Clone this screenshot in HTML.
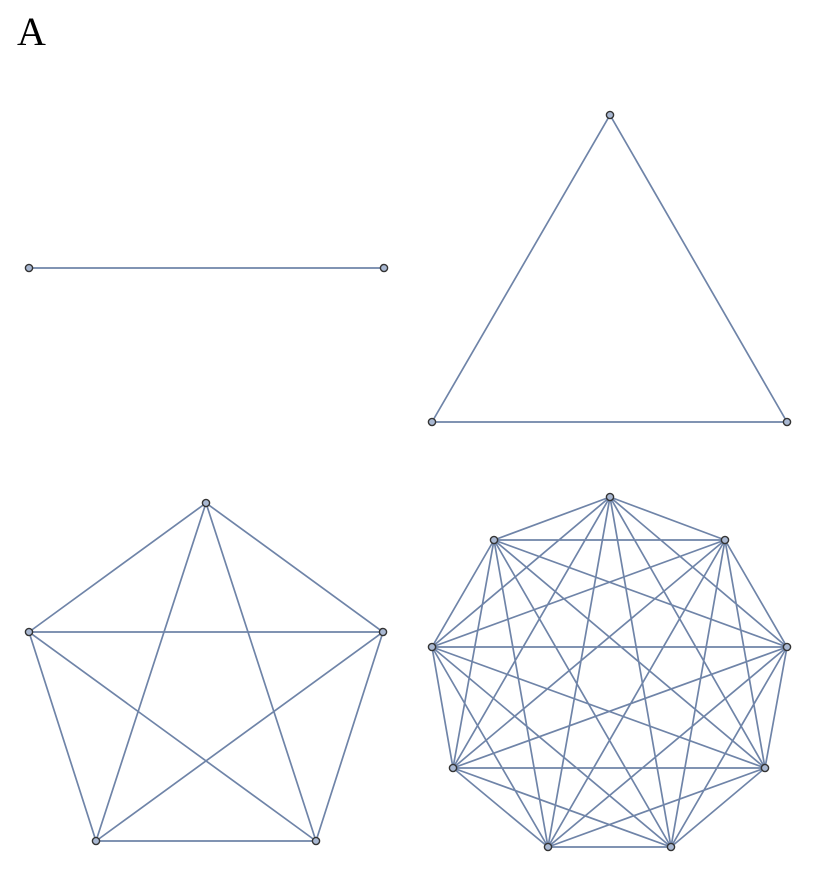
<!DOCTYPE html>
<html><head><style>
html,body{margin:0;padding:0;background:#fff;width:816px;height:873px;overflow:hidden}
</style></head><body>
<svg width="816" height="873" viewBox="0 0 816 873" xmlns="http://www.w3.org/2000/svg">
<text x="17" y="45" font-family="Liberation Serif, serif" font-size="40" fill="#000">A</text>
<g stroke="#6f84a8" stroke-width="1.7" fill="none">
<path d="M29 268 L384 268"/>
<path d="M610 115 L787 422 L432 422 Z"/>
<path d="M206 503 L383 632 M206 503 L316 841 M206 503 L96 841 M206 503 L29 632 M383 632 L316 841 M383 632 L96 841 M383 632 L29 632 M316 841 L96 841 M316 841 L29 632 M96 841 L29 632"/>
<path d="M610 497 L725 540 M610 497 L787 647 M610 497 L765 768 M610 497 L671 847 M610 497 L548 847 M610 497 L453 768 M610 497 L432 647 M610 497 L494 540
M725 540 L787 647 M725 540 L765 768 M725 540 L671 847 M725 540 L548 847 M725 540 L453 768 M725 540 L432 647 M725 540 L494 540
M787 647 L765 768 M787 647 L671 847 M787 647 L548 847 M787 647 L453 768 M787 647 L432 647 M787 647 L494 540
M765 768 L671 847 M765 768 L548 847 M765 768 L453 768 M765 768 L432 647 M765 768 L494 540
M671 847 L548 847 M671 847 L453 768 M671 847 L432 647 M671 847 L494 540
M548 847 L453 768 M548 847 L432 647 M548 847 L494 540
M453 768 L432 647 M453 768 L494 540
M432 647 L494 540"/>
</g>
<g fill="#a9b8d2" stroke="#333" stroke-width="1.4">
<circle cx="29" cy="268" r="3.6"/><circle cx="384" cy="268" r="3.6"/>
<circle cx="610" cy="115" r="3.6"/><circle cx="787" cy="422" r="3.6"/><circle cx="432" cy="422" r="3.6"/>
<circle cx="206" cy="503" r="3.6"/><circle cx="383" cy="632" r="3.6"/><circle cx="316" cy="841" r="3.6"/><circle cx="96" cy="841" r="3.6"/><circle cx="29" cy="632" r="3.6"/>
<circle cx="610" cy="497" r="3.6"/><circle cx="725" cy="540" r="3.6"/><circle cx="787" cy="647" r="3.6"/><circle cx="765" cy="768" r="3.6"/><circle cx="671" cy="847" r="3.6"/><circle cx="548" cy="847" r="3.6"/><circle cx="453" cy="768" r="3.6"/><circle cx="432" cy="647" r="3.6"/><circle cx="494" cy="540" r="3.6"/>
</g>
</svg>
</body></html>
